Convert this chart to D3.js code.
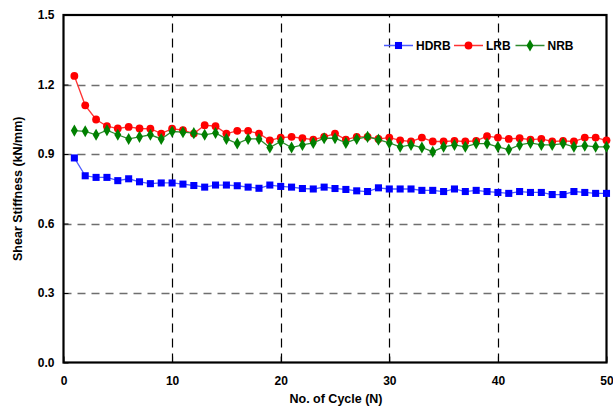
<!DOCTYPE html>
<html>
<head>
<meta charset="utf-8">
<script src="https://cdn.jsdelivr.net/npm/d3@7"></script>
<style>
  html, body { margin: 0; padding: 0; background: #fff; }
  svg { display: block; font-family: "Liberation Sans", Arial, sans-serif; font-weight: bold; }
</style>
</head>
<body>
<svg id="chart" width="613" height="408"></svg>
<script>
// Shear stiffness per loading cycle for three bearing types
const cycles = d3.range(1, 51);

const hdrb = [0.883, 0.806, 0.799, 0.799, 0.785, 0.793, 0.780, 0.772, 0.775, 0.775,
              0.770, 0.764, 0.757, 0.766, 0.766, 0.763, 0.757, 0.752, 0.766, 0.760,
              0.757, 0.751, 0.749, 0.757, 0.751, 0.747, 0.741, 0.738, 0.754, 0.749,
              0.749, 0.749, 0.743, 0.743, 0.738, 0.749, 0.738, 0.743, 0.738, 0.734,
              0.730, 0.738, 0.734, 0.734, 0.725, 0.725, 0.738, 0.734, 0.730, 0.730];

const lrb = [1.237, 1.110, 1.049, 1.020, 1.010, 1.017, 1.010, 1.009, 0.988, 1.009,
             1.003, 0.988, 1.024, 1.020, 0.988, 1.000, 1.000, 0.988, 0.959, 0.971,
             0.974, 0.968, 0.962, 0.974, 0.988, 0.962, 0.974, 0.974, 0.965, 0.971,
             0.959, 0.954, 0.971, 0.954, 0.954, 0.957, 0.954, 0.957, 0.977, 0.971,
             0.965, 0.968, 0.962, 0.965, 0.954, 0.957, 0.954, 0.971, 0.971, 0.959];

const nrb = [1.001, 0.998, 0.983, 1.003, 0.983, 0.965, 0.974, 0.983, 0.965, 0.997,
             0.994, 0.990, 0.983, 0.991, 0.965, 0.945, 0.965, 0.965, 0.928, 0.954,
             0.928, 0.939, 0.948, 0.968, 0.968, 0.948, 0.965, 0.974, 0.962, 0.948,
             0.931, 0.939, 0.928, 0.910, 0.931, 0.939, 0.931, 0.945, 0.945, 0.931,
             0.919, 0.939, 0.948, 0.939, 0.939, 0.945, 0.931, 0.936, 0.931, 0.931];

const xTicks = [0, 10, 20, 30, 40, 50];
const yTicks = [0.0, 0.3, 0.6, 0.9, 1.2, 1.5];

const seriesNames = ["HDRB", "LRB", "NRB"];
const seriesColors = ["#0000ff", "#ff0000", "#008000"];
const lineColors = ["#4d5cff", "#ff3333", "#2e8b2e"];
const seriesData = [hdrb, lrb, nrb];
const symbols = [d3.symbolSquare, d3.symbolCircle, d3.symbolDiamond];
const symbolSizes = [50, 48, 42];

const svg = d3.select("#chart");
const margin = { left: 63.5, right: 6.5, top: 15, bottom: 45.5 };
const W = 613, H = 408;

const x = d3.scaleLinear().domain([0, 50]).range([margin.left, W - margin.right]);
const y = d3.scaleLinear().domain([0, 1.5]).range([H - margin.bottom, margin.top]);

// Grid lines
svg.append("g").selectAll("line").data(yTicks.filter(d => d > 0 && d < 1.5)).join("line")
  .attr("x1", x(0)).attr("x2", x(50))
  .attr("y1", d => Math.round(y(d)) + 0.5).attr("y2", d => Math.round(y(d)) + 0.5)
  .attr("stroke", "#6e6e6e").attr("stroke-width", 1.3).attr("stroke-dasharray", "8,6");

svg.append("g").selectAll("line").data(xTicks.filter(d => d > 0 && d < 50)).join("line")
  .attr("y1", y(0)).attr("y2", y(1.5))
  .attr("x1", d => Math.round(x(d)) + 0.5).attr("x2", d => Math.round(x(d)) + 0.5)
  .attr("stroke", "#000").attr("stroke-width", 1.2).attr("stroke-dasharray", "9,6");

// Axes with inward ticks
const xAxis = svg.append("g").attr("transform", `translate(0,${y(0)})`)
  .call(d3.axisBottom(x).tickValues(xTicks).tickSizeInner(-6).tickSizeOuter(0).tickPadding(14)
    .tickFormat(d3.format("d")));
const yAxis = svg.append("g").attr("transform", `translate(${x(0)},0)`)
  .call(d3.axisLeft(y).tickValues(yTicks).tickSizeInner(-5).tickSizeOuter(0).tickPadding(9)
    .tickFormat(d3.format(".1f")));
[xAxis, yAxis].forEach(a => {
  a.select(".domain").remove();
  a.selectAll("line").attr("stroke", "#000").attr("stroke-width", 1);
  a.selectAll("text").attr("font-size", 12).attr("font-weight", "bold")
    .attr("font-family", "'Liberation Sans', Arial, sans-serif").attr("fill", "#000");
});

// Frame
svg.append("rect")
  .attr("x", x(0)).attr("y", y(1.5))
  .attr("width", x(50) - x(0)).attr("height", y(0) - y(1.5))
  .attr("fill", "none").attr("stroke", "#000").attr("stroke-width", 2.2);

// Series lines and markers
seriesData.forEach((vals, i) => {
  const pts = vals.map((v, k) => [cycles[k], v]);
  svg.append("path").datum(pts)
    .attr("fill", "none").attr("stroke", lineColors[i]).attr("stroke-width", 1.3)
    .attr("d", d3.line().x(d => x(d[0])).y(d => y(d[1])));
  svg.append("g").selectAll("path").data(pts).join("path")
    .attr("transform", d => `translate(${x(d[0])},${y(d[1])})`)
    .attr("d", d3.symbol().type(symbols[i]).size(symbolSizes[i]))
    .attr("fill", seriesColors[i]);
});

// Legend
const legendX = [384, 454, 515.5];
const legendY = 45.5;
seriesNames.forEach((name, i) => {
  const g = svg.append("g").attr("transform", `translate(${legendX[i]},${legendY})`);
  g.append("line").attr("x1", 0).attr("x2", 29).attr("y1", 0).attr("y2", 0)
    .attr("stroke", lineColors[i]).attr("stroke-width", 1.5);
  g.append("path").attr("transform", "translate(14.5,0)")
    .attr("d", d3.symbol().type(symbols[i]).size(symbolSizes[i])).attr("fill", seriesColors[i]);
  g.append("text").attr("x", 32).attr("y", 4.5).attr("font-size", 12).text(name);
});

// Axis titles
svg.append("text").attr("x", (x(0) + x(50)) / 2 + 1).attr("y", 403)
  .attr("text-anchor", "middle").attr("font-size", 12.5).text("No. of Cycle (N)");
svg.append("text").attr("transform", `translate(22,${(y(0) + y(1.5)) / 2}) rotate(-90)`)
  .attr("text-anchor", "middle").attr("font-size", 12.5).text("Shear Stiffness (kN/mm)");
</script>
</body>
</html>
